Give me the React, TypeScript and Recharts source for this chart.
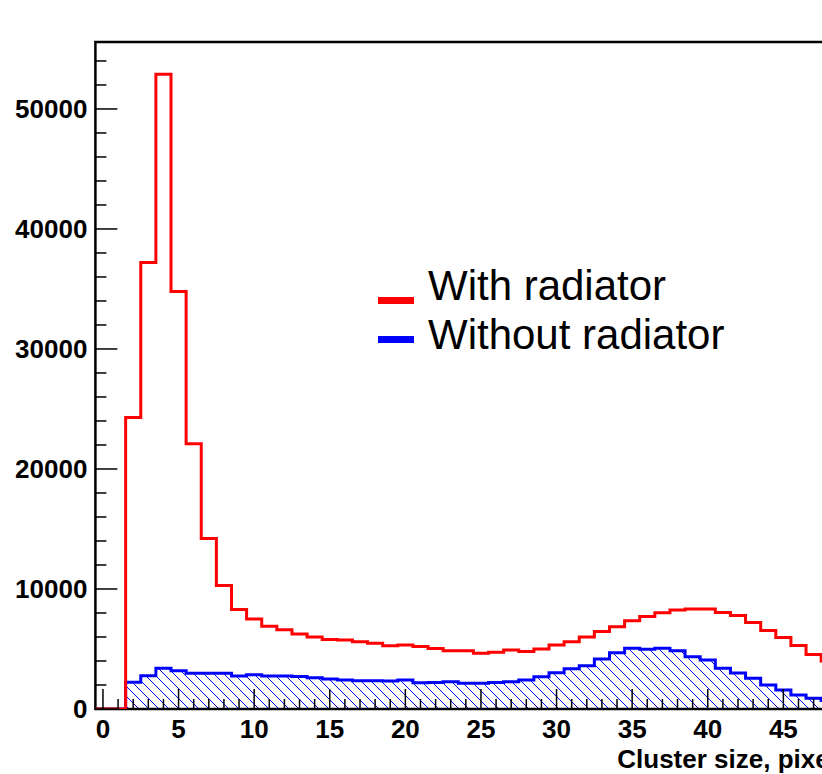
import React from "react";
import {
  ComposedChart,
  Line,
  Area,
  XAxis,
  YAxis,
  ReferenceArea,
  Label,
} from "recharts";

// counts per cluster size bin (bins 0..49, centred on integers)
const withRadiator = [
  0, 0, 24300, 37200, 52900, 34800, 22100, 14200, 10300, 8300,
  7500, 6900, 6600, 6250, 6000, 5800, 5750, 5600, 5470, 5280,
  5330, 5200, 5050, 4860, 4860, 4640, 4720, 4920, 4800, 5000,
  5330, 5600, 6000, 6450, 6860, 7360, 7700, 8030, 8250, 8330,
  8330, 8050, 7800, 7200, 6550, 5950, 5300, 4550, 4000, 3500,
];

const withoutRadiator = [
  0, 0, 2220, 2780, 3390, 3190, 2970, 2970, 2970, 2750,
  2860, 2750, 2750, 2700, 2610, 2500, 2420, 2360, 2360, 2330,
  2420, 2190, 2200, 2280, 2140, 2140, 2200, 2280, 2420, 2690,
  3030, 3360, 3600, 4170, 4690, 5060, 4970, 5060, 4860, 4360,
  4080, 3390, 3000, 2560, 2000, 1580, 1170, 890, 700, 550,
];

const seriesNames = ["With radiator", "Without radiator"];
const seriesColors = ["#ff0000", "#0000ff"];

const xLabelTicks = [0, 5, 10, 15, 20, 25, 30, 35, 40, 45];
const yLabelTicks = [0, 10000, 20000, 30000, 40000, 50000];
const xTitle = "Cluster size, pixels";

const X_MIN = -0.5;
const X_MAX = 49.5;
const Y_MAX = 55580;
const FONT = "'Liberation Sans', Arial, Helvetica, sans-serif";

// histogram edges -> step points (last edge repeats last bin)
const rows = withRadiator
  .map((v, i) => ({ x: i - 0.5, red: v, blue: withoutRadiator[i] }))
  .concat([
    {
      x: withRadiator.length - 0.5,
      red: withRadiator[withRadiator.length - 1],
      blue: withoutRadiator[withoutRadiator.length - 1],
    },
  ]);

// minor ticks: every bin on x, every 2000 on y
const xAllTicks = withRadiator.map((_, i) => i);
const yAllTicks = Array.from({ length: 28 }, (_, i) => i * 2000);

function XTick(props: any) {
  const { x, y, payload } = props;
  const major = xLabelTicks.includes(payload.value);
  return (
    <g>
      <line x1={x} x2={x} y1={y} y2={y - (major ? 20 : 10)} stroke="#000" strokeWidth={1.5} />
      {major && (
        <text x={x} y={y + 29} textAnchor="middle" fontSize={26} fontWeight="bold" fontFamily={FONT} fill="#000">
          {payload.value}
        </text>
      )}
    </g>
  );
}

function YTick(props: any) {
  const { x, y, payload } = props;
  const major = yLabelTicks.includes(payload.value);
  return (
    <g>
      <line x1={x} x2={x + (major ? 22 : 11)} y1={y} y2={y} stroke="#000" strokeWidth={1.5} />
      {major && (
        <text x={x - 8} y={y + 9} textAnchor="end" fontSize={26} fontWeight="bold" fontFamily={FONT} fill="#000">
          {payload.value}
        </text>
      )}
    </g>
  );
}

function Legend() {
  return (
    <svg
      width={400}
      height={110}
      style={{ position: "absolute", left: 378, top: 255 }}
    >
      {seriesNames.map((name, i) => (
        <g key={name}>
          <rect x={0} y={i === 0 ? 42 : 81} width={36} height={7} fill={seriesColors[i]} />
          <text x={50} y={i === 0 ? 45 : 94} fontSize={42} fontFamily={FONT} fill="#000">
            {name}
          </text>
        </g>
      ))}
    </svg>
  );
}

export default function App() {
  return (
    <div
      style={{
        position: "absolute",
        left: 0,
        top: 0,
        width: 822,
        height: 774,
        overflow: "hidden",
        background: "#fff",
      }}
    >
      <ComposedChart
        width={900}
        height={774}
        data={rows}
        margin={{ top: 42, right: 48.6, left: 0, bottom: 0 }}
      >
        <defs>
          <pattern id="hatch" patternUnits="userSpaceOnUse" width={10} height={10}>
            <path
              d="M0,0 L10,10 M-5,5 L5,15 M5,-5 L15,5"
              stroke="#0000ff"
              strokeWidth={1}
            />
          </pattern>
        </defs>
        <XAxis
          type="number"
          dataKey="x"
          domain={[X_MIN, X_MAX]}
          ticks={xAllTicks}
          interval={0}
          tick={(p: any) => <XTick {...p} />}
          tickLine={false}
          axisLine={false}
          tickSize={0}
          tickMargin={0}
          height={65}
          allowDataOverflow
        >
          <Label
            content={(p: any) => {
              const vb = p.viewBox || {};
              return (
                <text
                  x={vb.x + vb.width}
                  y={vb.y + 59}
                  textAnchor="end"
                  fontSize={26}
                  fontWeight="bold"
                  fontFamily={FONT}
                  fill="#000"
                >
                  {xTitle}
                </text>
              );
            }}
          />
        </XAxis>
        <YAxis
          type="number"
          domain={[0, Y_MAX]}
          ticks={yAllTicks}
          interval={0}
          tick={(p: any) => <YTick {...p} />}
          tickLine={false}
          axisLine={false}
          tickSize={0}
          tickMargin={0}
          width={95.4}
          allowDataOverflow
        />
        <Line
          dataKey="red"
          name={seriesNames[0]}
          type="stepAfter"
          stroke={seriesColors[0]}
          strokeWidth={3}
          dot={false}
          isAnimationActive={false}
        />
        <Area
          dataKey="blue"
          name={seriesNames[1]}
          type="stepAfter"
          stroke={seriesColors[1]}
          strokeWidth={3}
          fill="url(#hatch)"
          fillOpacity={1}
          isAnimationActive={false}
        />
        <ReferenceArea
          x1={X_MIN}
          x2={X_MAX}
          y1={0}
          y2={Y_MAX}
          fill="none"
          stroke="#000"
          strokeWidth={2.5}
          ifOverflow="visible"
        />
      </ComposedChart>
      <Legend />
    </div>
  );
}
